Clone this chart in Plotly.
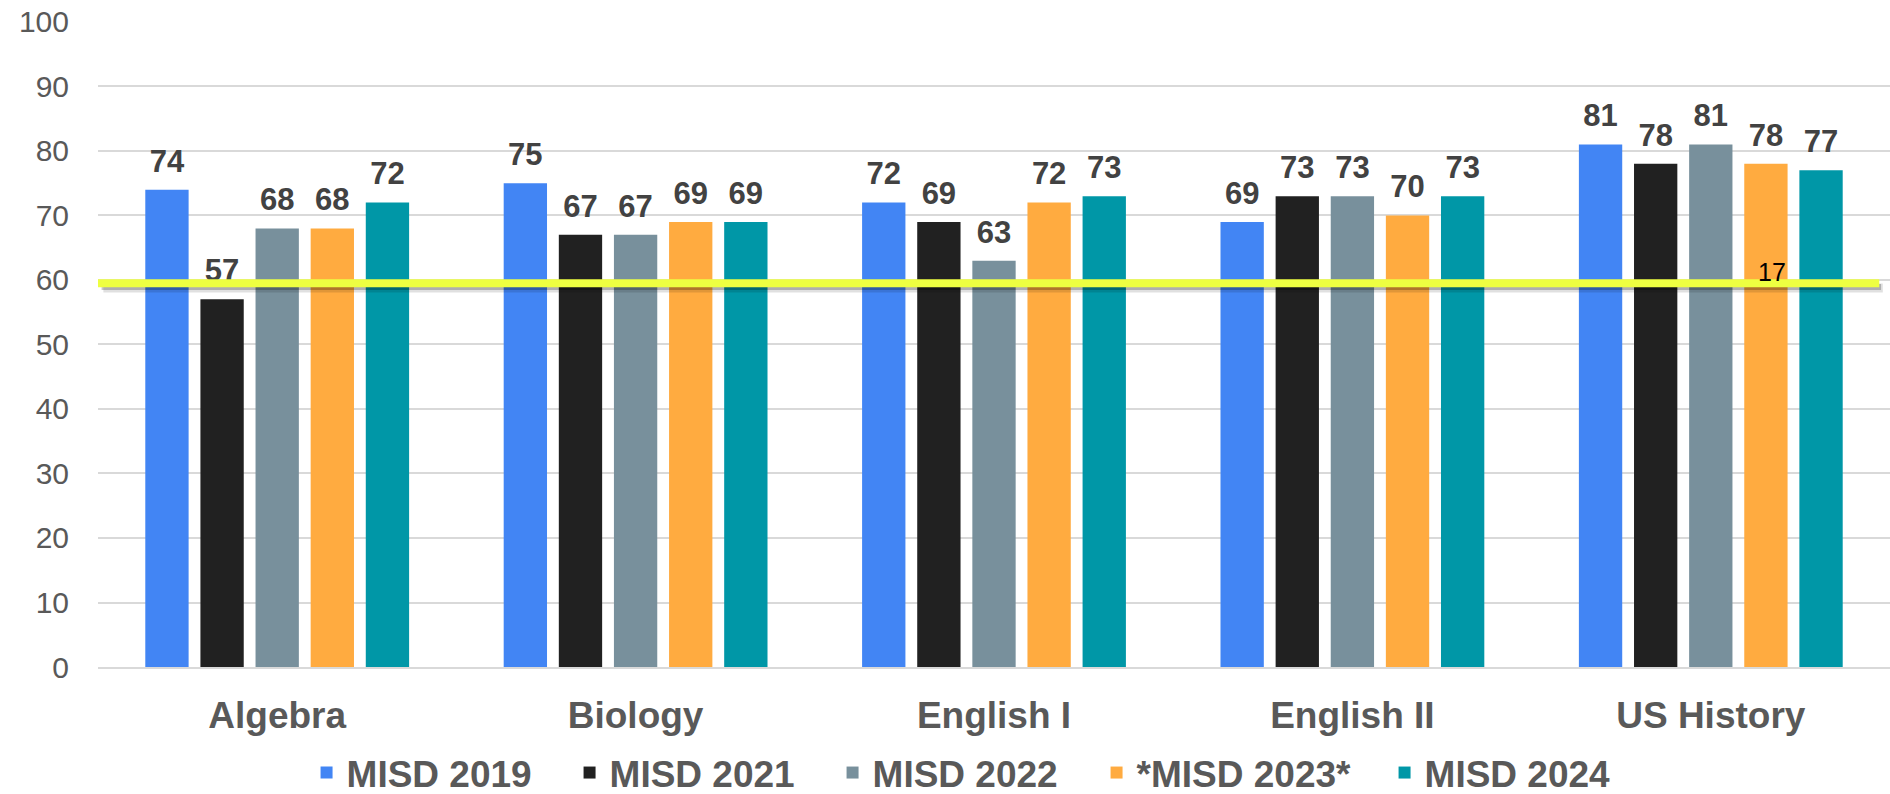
import plotly.graph_objects as go

subjects = ["Algebra", "Biology", "English I", "English II", "US History"]
series_names = ["MISD 2019", "MISD 2021", "MISD 2022", "*MISD 2023*", "MISD 2024"]
misd_2019 = [74, 75, 72, 69, 81]
misd_2021 = [57, 67, 69, 73, 78]
misd_2022 = [68, 67, 63, 73, 81]
misd_2023 = [68, 69, 72, 70, 78]
misd_2024 = [72, 69, 73, 73, 77]
series_values = [misd_2019, misd_2021, misd_2022, misd_2023, misd_2024]
y_ticks = [0, 10, 20, 30, 40, 50, 60, 70, 80, 90, 100]
target_value = 59.5
stray_label = "17"

colors = ["#4285F4", "#212121", "#78909C", "#FFAB40", "#0097A7"]
legend_widths = [218, 218, 219, 243, 218]
FONT = "Arial, Liberation Sans, sans-serif"
BARGAP = 0.231

fig = go.Figure()
for name, vals, col, lw in zip(series_names, series_values, colors, legend_widths):
    fig.add_trace(go.Bar(
        x=subjects, y=vals, name=name,
        marker=dict(color=col, line=dict(width=0)),
        hoverinfo="y+name", legendwidth=lw,
    ))
for name, vals in zip(series_names, series_values):
    fig.add_trace(go.Scatter(
        x=subjects, y=vals, mode="markers+text",
        text=[str(v) for v in vals], textposition="top center",
        textfont=dict(family=FONT, size=31, color="#424242", weight="bold"),
        marker=dict(size=15, opacity=0),
        showlegend=False, hoverinfo="skip", cliponaxis=False,
    ))

# shadow + target line
fig.add_shape(type="line", xref="paper", yref="y", x0=0.003, x1=0.996,
              y0=target_value - 0.75, y1=target_value - 0.75,
              line=dict(color="rgba(0,0,0,0.12)", width=9), layer="above")
fig.add_shape(type="line", xref="paper", yref="y", x0=0.002, x1=0.995,
              y0=target_value - 0.6, y1=target_value - 0.6,
              line=dict(color="rgba(0,0,0,0.22)", width=6), layer="above")
fig.add_shape(type="line", xref="paper", yref="y", x0=0, x1=0.994,
              y0=target_value, y1=target_value,
              line=dict(color="#EEFF41", width=8), layer="above")

fig.add_annotation(x=4.172, y=target_value, xref="x", yref="y", text=stray_label,
                   showarrow=False, yanchor="bottom", yshift=-5,
                   font=dict(family=FONT, size=25, color="#000000"))

fig.update_layout(
    width=1890, height=794,
    margin=dict(l=98, r=0, t=21, b=127, autoexpand=False),
    paper_bgcolor="white", plot_bgcolor="white",
    barmode="group", bargap=BARGAP, bargroupgap=0.214,
    scattermode="group", scattergap=BARGAP,
    font=dict(family=FONT, color="#595959"),
    legend=dict(orientation="h", xref="container", x=0.1622, xanchor="left",
                yref="container", y=0.0655, yanchor="top",
                bgcolor="rgba(0,0,0,0)",
                font=dict(family=FONT, size=37, color="#595959", weight="bold"),
                traceorder="normal"),
    xaxis=dict(showline=True, linecolor="#d9d9d9", linewidth=2, ticks="",
               tickfont=dict(family=FONT, size=37, color="#595959", weight="bold"),
               ticklabelstandoff=15, showgrid=False, automargin=False),
    yaxis=dict(range=[0, 100.15], tickvals=y_ticks, showgrid=True, gridcolor="#d9d9d9",
               gridwidth=1.5, zeroline=False, showline=False, ticks="",
               tickfont=dict(family=FONT, size=30, color="#595959"),
               ticklabelstandoff=28, automargin=False, ticklabeloverflow="allow"),
)

fig.write_html("out.html", post_script="document.body.style.margin='0';",
               config={"displayModeBar": False})
